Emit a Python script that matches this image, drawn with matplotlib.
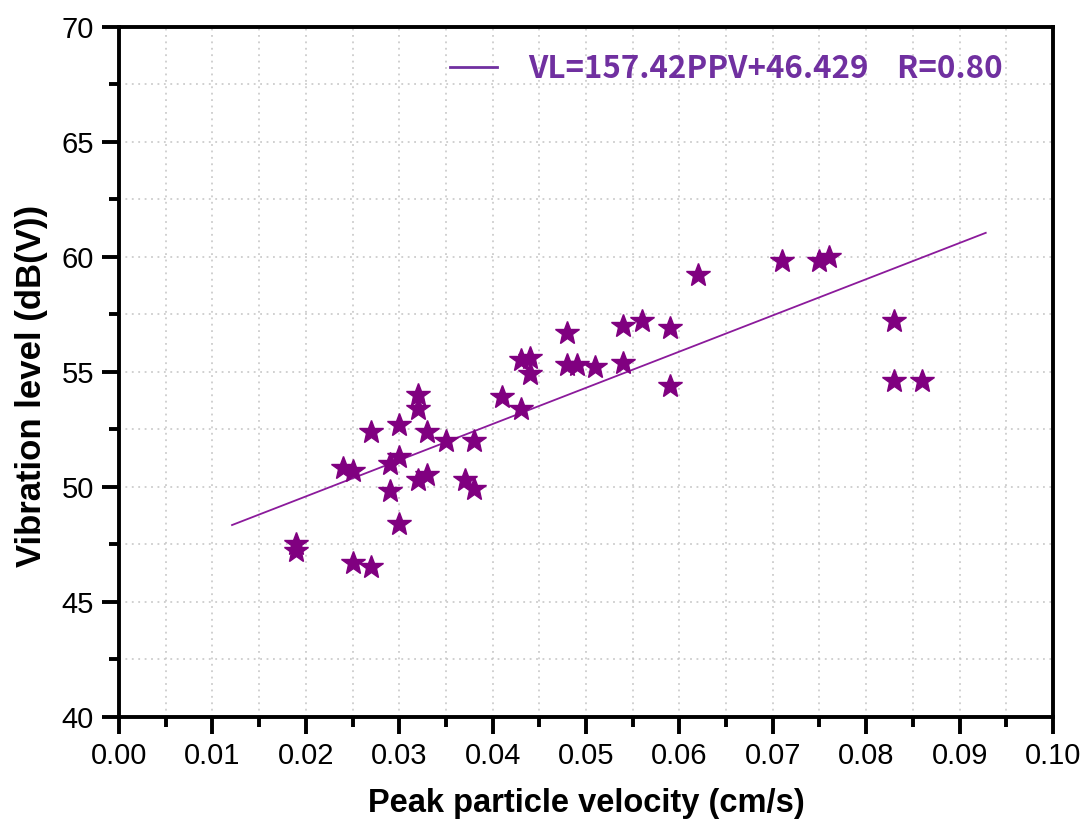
import matplotlib
matplotlib.use("Agg")
import matplotlib.pyplot as plt
from matplotlib.ticker import MultipleLocator, FormatStrFormatter
import numpy as np

# Measured peak particle velocity (cm/s) and vibration level (dB(V))
ppv = [0.019, 0.019, 0.025, 0.027, 0.024, 0.025, 0.027, 0.029, 0.030, 0.029,
       0.030, 0.030, 0.032, 0.032, 0.032, 0.033, 0.033, 0.035, 0.037, 0.038,
       0.038, 0.041, 0.043, 0.043, 0.044, 0.044, 0.048, 0.048, 0.049, 0.051,
       0.054, 0.054, 0.056, 0.059, 0.059, 0.062, 0.071, 0.075, 0.076, 0.083,
       0.083, 0.086]
vl = [47.5, 47.2, 46.7, 46.5, 50.8, 50.7, 52.4, 51.0, 51.3, 49.8,
      52.7, 48.4, 54.0, 53.4, 50.3, 52.4, 50.5, 52.0, 50.3, 52.0,
      49.9, 53.9, 53.4, 55.5, 55.6, 54.9, 56.7, 55.3, 55.3, 55.2,
      57.0, 55.4, 57.2, 56.9, 54.4, 59.2, 59.8, 59.8, 60.0, 57.2,
      54.6, 54.6]

# Linear fit VL = a*PPV + b
slope = 157.42
intercept = 46.429
r_value = 0.80
fit_range = [0.0121, 0.0928]

plt.rcParams['font.family'] = ['Liberation Sans', 'DejaVu Sans']

fig = plt.figure(figsize=(10.86, 8.21), dpi=100)
ax = fig.add_axes([0.1096, 0.127, 0.86, 0.8405])

fit_x = np.array(fit_range)
fit_y = slope * fit_x + intercept
line, = ax.plot(fit_x, fit_y, color='#8B1A9B', lw=1.3, zorder=3)
ax.plot(ppv, vl, linestyle='none', marker='*', markersize=18,
        color='#800080', markeredgecolor='#800080', zorder=4)

ax.set_xlim(0, 0.10)
ax.set_ylim(40, 70)
ax.xaxis.set_major_locator(MultipleLocator(0.01))
ax.xaxis.set_minor_locator(MultipleLocator(0.005))
ax.yaxis.set_major_locator(MultipleLocator(5))
ax.yaxis.set_minor_locator(MultipleLocator(2.5))
ax.xaxis.set_major_formatter(FormatStrFormatter('%.2f'))

ax.grid(True, which='both', color='#c4c4c4', linestyle=(0, (1.2, 3.0)), lw=1.1)
ax.set_axisbelow(True)

for s in ax.spines.values():
    s.set_linewidth(2.8)
ax.tick_params(which='major', direction='out', length=12, width=2.8,
               labelsize=21, pad=6)
ax.tick_params(which='minor', direction='out', length=7, width=2.8)

ax.set_xlabel('Peak particle velocity (cm/s)', fontsize=23.5, fontweight='bold')
ax.xaxis.set_label_coords(0.5, -0.103)
ax.set_ylabel('Vibration level (dB(V))', fontsize=25, fontweight='bold')
ax.yaxis.set_label_coords(-0.076, 0.479)

leg_label = f'VL={slope:.2f}PPV+{intercept:.3f}    R={r_value:.2f}'
leg = ax.legend([line], [leg_label], loc='upper right', frameon=False,
                handlelength=1.5, handletextpad=1.0,
                bbox_to_anchor=(0.976, 1.003),
                prop={'family': ['Noto Sans CJK SC', 'DejaVu Sans'],
                      'weight': 'bold', 'size': 22.5})
for t in leg.get_texts():
    t.set_color('#7030A0')
leg.legend_handles[0].set_color('#7030A0')
leg.legend_handles[0].set_linewidth(2)

fig.savefig('out.png', dpi=100)
